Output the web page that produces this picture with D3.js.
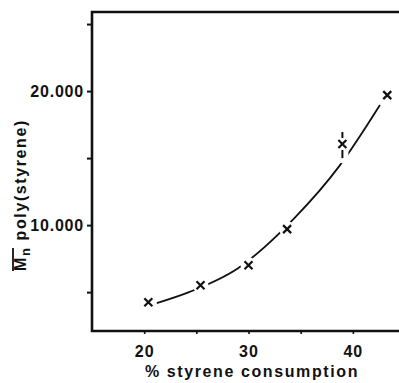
<!DOCTYPE html>
<html>
<head>
<meta charset="utf-8">
<script src="https://cdn.jsdelivr.net/npm/d3@7"></script>
<style>
  body { margin: 0; background: #fff; }
  svg { display: block; }
  text { font-family: "Liberation Sans", Arial, sans-serif; font-weight: bold; fill: #111; }
</style>
</head>
<body>
<svg id="chart" width="399" height="383"></svg>
<script>
// measured points (x marks)
var consumption = [20.4, 25.4, 30.0, 33.7, 39.0, 43.3];
var molWeight = [4250, 5520, 7000, 9700, 16050, 19700];
// fitted curve as drawn in the figure
var curveX = [21.2, 24.3, 29.0, 34.4, 38.7, 42.6];
var curveY = [4180, 5000, 6790, 10520, 14400, 18960];
// error bar on the 39 % point
var errIndex = 4;
var errLow = 15000, errHigh = 16950;

var xTicks = [20, 25, 30, 35, 40, 45];
var xLabels = [20, 30, 40];
var yTicks = [5000, 10000, 15000, 20000, 25000];
var yLabels = [10000, 20000];

var svg = d3.select('#chart');
var x = d3.scaleLinear().domain([15, 45]).range([92, 405]);
var y = d3.scaleLinear().domain([2100, 25900]).range([331, 12]);

var fmt = d3.formatLocale({ decimal: ',', thousands: '.', grouping: [3], currency: ['', ''] }).format(',d');

// curve
var line = d3.line()
    .x(function (d) { return x(d[0]); })
    .y(function (d) { return y(d[1]); })
    .curve(d3.curveMonotoneX);

svg.append('path')
    .datum(d3.zip(curveX, curveY))
    .attr('d', line)
    .attr('fill', 'none')
    .attr('stroke', '#111')
    .attr('stroke-width', 1.8);

// white gaps around markers
var pts = d3.zip(consumption, molWeight);
svg.selectAll('.gap')
    .data(pts)
    .enter()
    .append('circle')
    .attr('cx', function (d) { return x(d[0]); })
    .attr('cy', function (d) { return y(d[1]); })
    .attr('r', 8)
    .attr('fill', '#fff');

svg.append('rect')
    .attr('x', x(consumption[errIndex]) - 6)
    .attr('y', y(errHigh) - 3)
    .attr('width', 12)
    .attr('height', y(errLow) - y(errHigh) + 8)
    .attr('fill', '#fff');

// error bar (broken around the mark)
var ex = x(consumption[errIndex]), ey = y(molWeight[errIndex]);
svg.append('line').attr('x1', ex).attr('x2', ex).attr('y1', y(errHigh)).attr('y2', ey - 6)
    .attr('stroke', '#111').attr('stroke-width', 2);
svg.append('line').attr('x1', ex).attr('x2', ex).attr('y1', ey + 6).attr('y2', y(errLow))
    .attr('stroke', '#111').attr('stroke-width', 2);

// x marks
svg.selectAll('.mark')
    .data(pts)
    .enter()
    .append('path')
    .attr('transform', function (d) { return 'translate(' + [x(d[0]), y(d[1])] + ')'; })
    .attr('d', 'M-4,-4L4,4M-4,4L4,-4')
    .attr('stroke', '#111')
    .attr('stroke-width', 2.2)
    .attr('fill', 'none');

// frame: left, bottom, top
svg.append('path')
    .attr('d', 'M' + x(45) + ',' + y(25900) + 'H' + x(15) + 'V' + y(2100) + 'H' + x(45))
    .attr('fill', 'none')
    .attr('stroke', '#111')
    .attr('stroke-width', 2.6);

// y axis
var yAxis = svg.append('g')
    .attr('transform', 'translate(' + x(15) + ',0)')
    .call(d3.axisLeft(y).tickValues(yTicks).tickSize(5).tickFormat(function (d) {
        return yLabels.indexOf(d) >= 0 ? fmt(d) : '';
    }));
yAxis.select('.domain').remove();
yAxis.selectAll('line').attr('stroke', '#111').attr('stroke-width', 2);
yAxis.selectAll('text')
    .attr('x', -8)
    .attr('dy', '0.36em')
    .style('font-size', '16px')
    .style('letter-spacing', '0.8px')
    .style('font-family', '"Liberation Sans", Arial, sans-serif')
    .attr('fill', '#111');

// x axis
var xAxis = svg.append('g')
    .attr('transform', 'translate(0,' + y(2100) + ')')
    .call(d3.axisBottom(x).tickValues(xTicks).tickSize(3).tickFormat(function (d) {
        return xLabels.indexOf(d) >= 0 ? d : '';
    }));
xAxis.select('.domain').remove();
xAxis.selectAll('line').attr('stroke', '#111').attr('stroke-width', 1.6);
xAxis.selectAll('text')
    .attr('y', 26)
    .attr('dy', 0)
    .style('font-size', '16px')
    .style('letter-spacing', '1px')
    .style('font-family', '"Liberation Sans", Arial, sans-serif')
    .attr('fill', '#111');

// axis titles
svg.append('text')
    .attr('x', 252)
    .attr('y', 377)
    .attr('text-anchor', 'middle')
    .style('font-size', '16px')
    .style('letter-spacing', '1.6px')
    .text('% styrene consumption');

var yt = svg.append('g').attr('transform', 'translate(26,195) rotate(-90)');
var ytext = yt.append('text')
    .attr('text-anchor', 'middle')
    .style('font-size', '16px')
    .style('letter-spacing', '1.6px');
ytext.append('tspan').text('M');
ytext.append('tspan').attr('dy', 4).style('font-size', '13px').text('n');
ytext.append('tspan').attr('dy', -4).text('\u00a0poly(styrene)');

var e0 = ytext.node().getExtentOfChar(0);
var e1 = ytext.node().getExtentOfChar(1);
yt.append('line')
    .attr('x1', e0.x).attr('x2', e1.x + e1.width - 1.6)
    .attr('y1', e0.y + 1).attr('y2', e0.y + 1)
    .attr('stroke', '#111').attr('stroke-width', 1.8);
</script>
</body>
</html>
